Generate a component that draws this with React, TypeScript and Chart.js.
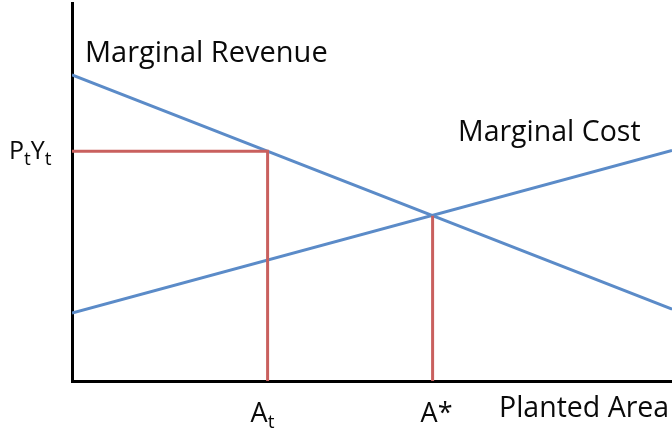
import React, { useEffect, useRef } from "react";
import { Chart, registerables } from "chart.js";

Chart.register(...registerables);

// Data (arbitrary units: planted area 0..100, value 0..100)
const areaRange = [0, 100];
const marginalRevenue = [81, 19]; // at areaRange ends
const marginalCost = [18, 61]; // at areaRange ends
const areaT = 32.6; // A_t
const valueT = 60.8; // P_t Y_t
const areaStar = 60.1; // A*
const valueStar = 43.7; // value at intersection

const BLUE = "#5b8bc8";
const RED = "#c9605e";
const FONT = "'Open Sans', Lato, sans-serif";

function drawSub(ctx: CanvasRenderingContext2D, parts: [string, boolean][], x: number, y: number, size: number, subSize: number, subDrop: number) {
  let cx = x;
  for (const [txt, sub] of parts) {
    ctx.font = `${sub ? subSize : size}px ${FONT}`;
    ctx.fillText(txt, cx, sub ? y + subDrop : y);
    cx += ctx.measureText(txt).width;
  }
}

const labelPlugin = {
  id: "econLabels",
  afterDraw(chart: any) {
    const ctx: CanvasRenderingContext2D = chart.ctx;
    const xs = chart.scales.x;
    const ys = chart.scales.y;
    ctx.save();
    ctx.fillStyle = "#0a0a0a";
    ctx.textBaseline = "alphabetic";
    ctx.textAlign = "left";
    ctx.font = `29px ${FONT}`;
    ctx.fillText("Marginal Revenue", 85, 62);
    ctx.font = `28.5px ${FONT}`;
    ctx.fillText("Marginal Cost", 458, 141);
    // y label
    const py = ys.getPixelForValue(valueT);
    drawSub(ctx, [["P", false], ["t", true], ["Y", false], ["t", true]], 9, py + 8, 25, 19, 6);
    // x labels
    const base = 422;
    const pxT = xs.getPixelForValue(areaT);
    drawSub(ctx, [["A", false], ["t", true]], pxT - 17, base, 27, 19, 6);
    const pxS = xs.getPixelForValue(areaStar);
    ctx.font = `27px ${FONT}`;
    ctx.fillText("A*", pxS - 12, base);
    ctx.font = `28.5px ${FONT}`;
    ctx.fillText("Planted Area", 499, 417);
    ctx.restore();
  },
};

export default function App() {
  const ref = useRef<HTMLCanvasElement>(null);
  useEffect(() => {
    const canvas = ref.current!;
    const chart = new Chart(canvas, {
      type: "scatter",
      data: {
        datasets: [
          {
            label: "Red guides At",
            data: [
              { x: 0, y: valueT },
              { x: areaT, y: valueT },
              { x: areaT, y: 0 },
            ],
            showLine: true,
            borderColor: RED,
            borderWidth: 3,
            pointRadius: 0,
            tension: 0,
          },
          {
            label: "Red guide A*",
            data: [
              { x: areaStar, y: valueStar },
              { x: areaStar, y: 0 },
            ],
            showLine: true,
            borderColor: RED,
            borderWidth: 3,
            pointRadius: 0,
          },
          {
            label: "Marginal Revenue",
            data: areaRange.map((a, i) => ({ x: a, y: marginalRevenue[i] })),
            showLine: true,
            borderColor: BLUE,
            borderWidth: 3,
            pointRadius: 0,
          },
          {
            label: "Marginal Cost",
            data: areaRange.map((a, i) => ({ x: a, y: marginalCost[i] })),
            showLine: true,
            borderColor: BLUE,
            borderWidth: 3,
            pointRadius: 0,
          },
        ],
      },
      options: {
        responsive: false,
        animation: false,
        events: [],
        layout: { padding: { left: 72, right: 0, top: 3, bottom: 50 } },
        plugins: { legend: { display: false }, tooltip: { enabled: false } },
        scales: {
          x: {
            type: "linear",
            min: 0,
            max: 100,
            ticks: { display: false },
            grid: { display: false, drawTicks: false },
            border: { display: true, color: "#000", width: 3 },
          },
          y: {
            type: "linear",
            min: 0,
            max: 100,
            ticks: { display: false },
            grid: { display: false, drawTicks: false },
            border: { display: true, color: "#000", width: 3 },
          },
        },
      },
      plugins: [labelPlugin],
    });
    return () => chart.destroy();
  }, []);
  return (
    <div style={{ position: "fixed", left: 0, top: 0, width: 672, height: 431, background: "#fff" }}>
      <canvas ref={ref} width={672} height={431} style={{ width: 672, height: 431, display: "block" }} />
    </div>
  );
}
